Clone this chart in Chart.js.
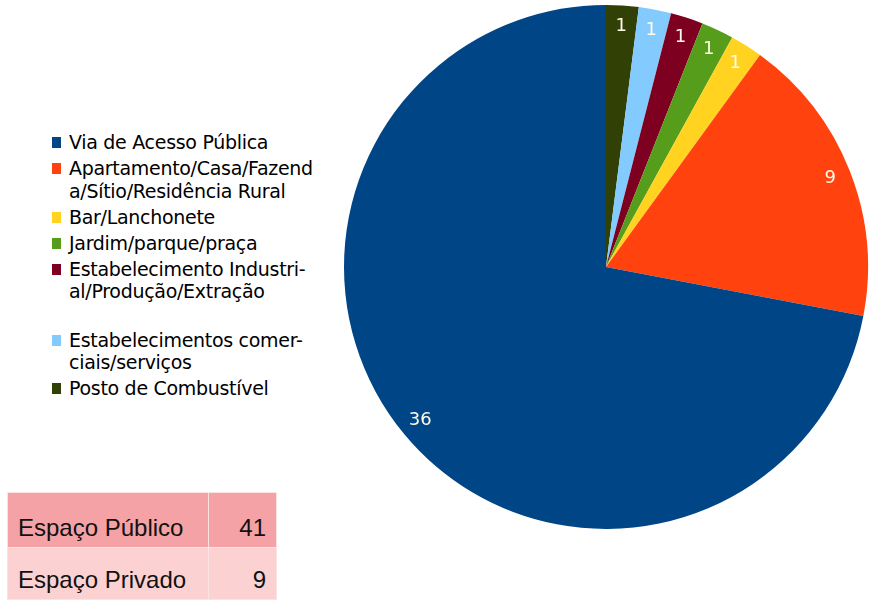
<!DOCTYPE html>
<html>
<head>
<meta charset="utf-8">
<script src="https://cdn.jsdelivr.net/npm/chart.js@4"></script>
<style>
  body { margin: 0; background: #fff; width: 881px; height: 607px; position: relative; overflow: hidden; }
  #pieBox { position: absolute; left: 341px; top: 2px; width: 530px; height: 530px; }
  #legend { position: absolute; left: 52px; top: 131px; font-family: "DejaVu Sans", sans-serif; font-size: 19px; color: #000; letter-spacing: -0.3px; }
  .item { display: flex; align-items: flex-start; margin-bottom: 3.5px; }
  .swatch { width: 9px; height: 11px; margin: 6px 8px 0 0; flex-shrink: 0; }
  .line { height: 22.5px; line-height: 22.5px; white-space: pre; }
  #summary { position: absolute; left: 7px; top: 492px; border-collapse: collapse; font-family: "Liberation Sans", Arial, sans-serif; font-size: 24px; color: #111; }
  #summary td { padding: 0 10px 5px 10px; vertical-align: bottom; border: 1px solid #fbe3e3; }
  #summary td.name { width: 180px; }
  #summary td.num { width: 47px; text-align: right; }
  #summary tr.r0 td { background: #f4a2a5; height: 49px; }
  #summary tr.r1 td { background: #fcd1d1; height: 46px; }
</style>
</head>
<body>
<div id="legend"></div>
<div id="pieBox"><canvas id="pie"></canvas></div>
<table id="summary"></table>
<script>
// Local de ocorrência: categorias, contagens e cores (ordem da legenda)
const categories = [
  "Via de Acesso Pública",
  "Apartamento/Casa/Fazend\na/Sítio/Residência Rural",
  "Bar/Lanchonete",
  "Jardim/parque/praça",
  "Estabelecimento Industri-\nal/Produção/Extração\n",
  "Estabelecimentos comer-\nciais/serviços",
  "Posto de Combustível"
];
const counts = [36, 9, 1, 1, 1, 1, 1];
const colors = ["#004586", "#ff420e", "#ffd320", "#579d1c", "#7e0021", "#83caff", "#314004"];

// totais por tipo de espaço
const spaceLabels = ["Espaço Público", "Espaço Privado"];
const spaceTotals = [41, 9];

// legenda
const legend = document.getElementById("legend");
categories.forEach((label, i) => {
  const item = document.createElement("div");
  item.className = "item";
  const sw = document.createElement("div");
  sw.className = "swatch";
  sw.style.background = colors[i];
  const txt = document.createElement("div");
  label.split("\n").forEach(l => {
    const d = document.createElement("div");
    d.className = "line";
    d.textContent = l;
    txt.appendChild(d);
  });
  item.appendChild(sw);
  item.appendChild(txt);
  legend.appendChild(item);
});

// tabela de totais
const table = document.getElementById("summary");
spaceLabels.forEach((label, i) => {
  const tr = document.createElement("tr");
  tr.className = "r" + i;
  tr.innerHTML = '<td class="name"></td><td class="num"></td>';
  tr.children[0].textContent = label;
  tr.children[1].textContent = spaceTotals[i];
  table.appendChild(tr);
});

// the pie runs counter-clockwise from 12 o'clock, so feed it reversed
const pieValues = counts.slice().reverse();
const pieColors = colors.slice().reverse();
const pieLabels = categories.slice().reverse();

const sliceLabels = {
  id: "sliceLabels",
  afterDatasetsDraw(chart) {
    const ctx = chart.ctx;
    const meta = chart.getDatasetMeta(0);
    const data = chart.data.datasets[0].data;
    ctx.save();
    ctx.font = "18px 'DejaVu Sans', sans-serif";
    ctx.fillStyle = "#fffbe8";
    ctx.textAlign = "center";
    ctx.textBaseline = "middle";
    meta.data.forEach((arc, i) => {
      const p = arc.getProps(["x", "y", "startAngle", "endAngle", "outerRadius"], true);
      const mid = (p.startAngle + p.endAngle) / 2;
      const r = p.outerRadius * 0.92;
      ctx.fillText(String(data[i]), p.x + Math.cos(mid) * r, p.y + Math.sin(mid) * r);
    });
    ctx.restore();
  }
};

new Chart(document.getElementById("pie"), {
  type: "pie",
  data: {
    labels: pieLabels,
    datasets: [{
      data: pieValues,
      backgroundColor: pieColors,
      borderWidth: 0
    }]
  },
  options: {
    responsive: true,
    maintainAspectRatio: false,
    animation: false,
    layout: { padding: 3 },
    plugins: {
      legend: { display: false },
      tooltip: { enabled: false }
    }
  },
  plugins: [sliceLabels]
});
</script>
</body>
</html>
